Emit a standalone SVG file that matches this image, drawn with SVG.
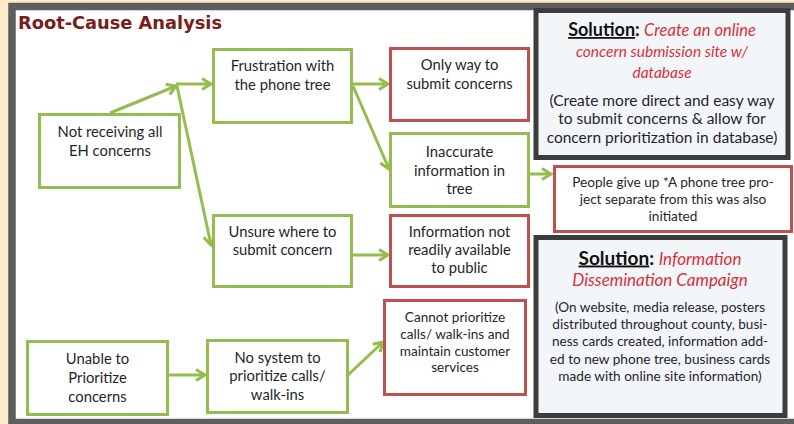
<svg xmlns="http://www.w3.org/2000/svg" width="794" height="424" viewBox="0 0 794 424">
<defs>
<style>
.g{fill:#fff;stroke:#93bd4e;stroke-width:3}
.r{fill:#fff;stroke:#c0504d;stroke-width:3}
.s{fill:#f3f6f9;stroke:#3c3c3c;stroke-width:5}
.t{font-family:Lato,"Liberation Sans",sans-serif;font-size:14.8px;fill:#1f1f2e;text-anchor:middle}
.ts{font-size:13.6px}
.c{stroke:#93bd4e;stroke-width:3;fill:none;marker-end:url(#ah)}
.sol{font-family:Lato,"Liberation Sans",sans-serif;font-size:18px;font-weight:bold;fill:#111;text-decoration:underline}
.colon{font-family:Lato,"Liberation Sans",sans-serif;font-size:18px;font-weight:bold;fill:#111}
.red{font-family:Lato,"Liberation Sans",sans-serif;font-size:15.5px;font-style:italic;fill:#d8303a}
</style>
<marker id="ah" viewBox="0 0 12 14" refX="10" refY="7" markerWidth="12" markerHeight="14" markerUnits="userSpaceOnUse" orient="auto">
<path d="M1,1.5 L10,7 L1,12.5" fill="none" stroke="#93bd4e" stroke-width="3"/>
</marker>
</defs>
<rect x="0" y="0" width="794" height="424" fill="#fdebc9"/>
<rect x="12" y="6.5" width="800" height="416" fill="#fff" stroke="#5e5e5e" stroke-width="7.5"/>
<text x="18" y="29" font-family="'DejaVu Sans',sans-serif" font-size="17" font-weight="bold" fill="#7a1c1c" textLength="204" lengthAdjust="spacingAndGlyphs">Root-Cause Analysis</text>

<g id="connectors">
<path class="c" d="M110,113 L176,86"/>
<path class="c" d="M176,84 L211,84"/>
<path class="c" d="M177,86 L211,245"/>
<path class="c" d="M352,84 L388,84"/>
<path class="c" d="M353,86 L389,169"/>
<path class="c" d="M530,174 L551,174"/>
<path class="c" d="M352,255 L388,255"/>
<path class="c" d="M168,375 L205,375"/>
<path class="c" d="M348,375 L383,342"/>
</g>

<g id="n1"><rect class="g" x="39.5" y="114.5" width="140" height="73"/>
<text class="t"><tspan x="110" y="137">Not receiving all</tspan><tspan x="110" y="156">EH concerns</tspan></text></g>
<g id="n2"><rect class="g" x="213.5" y="49.5" width="138" height="73"/>
<text class="t"><tspan x="282.5" y="70.5">Frustration with</tspan><tspan x="282.5" y="90">the phone tree</tspan></text></g>
<g id="n3"><rect class="g" x="213.5" y="215.5" width="138" height="71"/>
<text class="t"><tspan x="282.5" y="236.5">Unsure where to</tspan><tspan x="282.5" y="255">submit concern</tspan></text></g>
<g id="n4"><rect class="r" x="390.5" y="48.5" width="138" height="72"/>
<text class="t"><tspan x="459.5" y="70">Only way to</tspan><tspan x="459.5" y="89">submit concerns</tspan></text></g>
<g id="n5"><rect class="g" x="390.5" y="133.5" width="138" height="73"/>
<text class="t"><tspan x="459.5" y="157">Inaccurate</tspan><tspan x="459.5" y="175.5">information in</tspan><tspan x="459.5" y="194">tree</tspan></text></g>
<g id="n6"><rect class="r" x="390.5" y="215.5" width="138" height="71"/>
<text class="t"><tspan x="459.5" y="236.5">Information not</tspan><tspan x="459.5" y="255">readily available</tspan><tspan x="459.5" y="273">to public</tspan></text></g>
<g id="n7"><rect class="r" x="384.5" y="300.5" width="141" height="94"/>
<text class="t ts"><tspan x="455" y="321.5">Cannot prioritize</tspan><tspan x="455" y="338.5">calls/ walk-ins and</tspan><tspan x="455" y="355.5">maintain customer</tspan><tspan x="455" y="372">services</tspan></text></g>
<g id="n8"><rect class="r" x="554.5" y="166.5" width="237" height="65"/>
<text class="t ts"><tspan x="673" y="186.5">People give up *A phone tree pro-</tspan><tspan x="673" y="203.5">ject separate from this was also</tspan><tspan x="673" y="220.5">initiated</tspan></text></g>
<g id="n9"><rect class="g" x="27.5" y="341.5" width="140" height="73"/>
<text class="t"><tspan x="97.5" y="364">Unable to</tspan><tspan x="97.5" y="383">Prioritize</tspan><tspan x="97.5" y="402">concerns</tspan></text></g>
<g id="n10"><rect class="g" x="207.5" y="340.5" width="140" height="72"/>
<text class="t"><tspan x="277.5" y="363">No system to</tspan><tspan x="277.5" y="381">prioritize calls/</tspan><tspan x="277.5" y="400">walk-ins</tspan></text></g>

<g id="s1"><rect class="s" x="536" y="10.5" width="252" height="147"/>
<text x="662" y="36" text-anchor="middle"><tspan class="sol">Solution</tspan><tspan class="colon">: </tspan><tspan class="red" style="font-size:16.5px">Create an online</tspan></text>
<text class="red" x="662" y="56.5" text-anchor="middle">concern submission site w/</text>
<text class="red" x="662" y="77.5" text-anchor="middle">database</text>
<text class="t" style="font-size:15.5px"><tspan x="662" y="105.5">(Create more direct and easy way</tspan><tspan x="662" y="123.5">to submit concerns &amp; allow for</tspan><tspan x="662" y="142.5">concern prioritization in database)</tspan></text></g>

<g id="s2"><rect class="s" x="536" y="237.5" width="249" height="178"/>
<text x="660" y="264.5" text-anchor="middle"><tspan class="sol" style="font-size:19px">Solution</tspan><tspan class="colon" style="font-size:19px">: </tspan><tspan class="red" style="font-size:17px">Information</tspan></text>
<text class="red" x="660" y="286" text-anchor="middle" style="font-size:17px">Dissemination Campaign</text>
<text class="t" style="font-size:13.6px"><tspan x="660" y="311.5">(On website, media release, posters</tspan><tspan x="660" y="329">distributed throughout county, busi-</tspan><tspan x="660" y="346">ness cards created, information add-</tspan><tspan x="660" y="363.5">ed to new phone tree, business cards</tspan><tspan x="660" y="380.5">made with online site information)</tspan></text></g>
</svg>
